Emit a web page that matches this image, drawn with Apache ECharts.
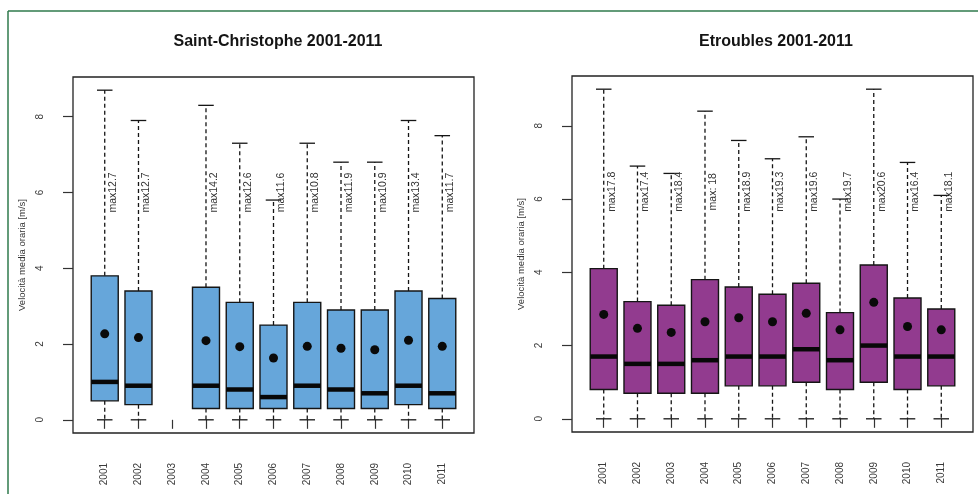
<!DOCTYPE html>
<html>
<head>
<meta charset="utf-8">
<title>Velocità media oraria 2001-2011</title>
<script src="https://cdn.jsdelivr.net/npm/echarts@6/dist/echarts.min.js"></script>
<style>
  html, body { margin: 0; padding: 0; background: #ffffff; }
  #chart { width: 978px; height: 494px; }
</style>
</head>
<body>
<div id="chart"></div>
<script>
// Years on the x axis (one box per year)
const years = ['2001', '2002', '2003', '2004', '2005', '2006', '2007', '2008', '2009', '2010', '2011'];
const yTicks = [0, 2, 4, 6, 8];

// Saint-Christophe: box statistics per year (m/s); 2003 has no data
const scLow    = [0, 0, null, 0, 0, 0, 0, 0, 0, 0, 0];
const scQ1     = [0.5, 0.4, null, 0.3, 0.3, 0.3, 0.3, 0.3, 0.3, 0.4, 0.3];
const scMedian = [1.0, 0.9, null, 0.9, 0.8, 0.6, 0.9, 0.8, 0.7, 0.9, 0.7];
const scQ3     = [3.8, 3.4, null, 3.5, 3.1, 2.5, 3.1, 2.9, 2.9, 3.4, 3.2];
const scHigh   = [8.7, 7.9, null, 8.3, 7.3, 5.8, 7.3, 6.8, 6.8, 7.9, 7.5];
const scMean   = [2.27, 2.17, null, 2.09, 1.93, 1.63, 1.94, 1.89, 1.85, 2.10, 1.94];
const scMaxLabels = ['max12.7', 'max12.7', null, 'max14.2', 'max12.6', 'max11.6', 'max10.8', 'max11.9', 'max10.9', 'max13.4', 'max11.7'];

// Etroubles: box statistics per year (m/s)
const etLow    = [0, 0, 0, 0, 0, 0, 0, 0, 0, 0, 0];
const etQ1     = [0.8, 0.7, 0.7, 0.7, 0.9, 0.9, 1.0, 0.8, 1.0, 0.8, 0.9];
const etMedian = [1.7, 1.5, 1.5, 1.6, 1.7, 1.7, 1.9, 1.6, 2.0, 1.7, 1.7];
const etQ3     = [4.1, 3.2, 3.1, 3.8, 3.6, 3.4, 3.7, 2.9, 4.2, 3.3, 3.0];
const etHigh   = [9.0, 6.9, 6.7, 8.4, 7.6, 7.1, 7.7, 6.0, 9.0, 7.0, 6.1];
const etMean   = [2.85, 2.47, 2.36, 2.65, 2.76, 2.65, 2.88, 2.43, 3.18, 2.52, 2.43];
const etMaxLabels = ['max17.8', 'max17.4', 'max18.4', 'max: 18', 'max18.9', 'max19.3', 'max19.6', 'max19.7', 'max20.6', 'max16.4', 'max18.1'];

const FONT = "'Liberation Sans', Arial, Helvetica, sans-serif";

// Rows: [position (1..n), low, q1, median, q3, high, mean, yearIndex]
function buildRows(low, q1, med, q3, high, mean) {
  const rows = [];
  years.forEach((y, i) => {
    if (med[i] == null) return;
    rows.push([i + 1, low[i], q1[i], med[i], q3[i], high[i], mean[i], i]);
  });
  return rows;
}

function makeRenderer(fillColor, maxLabels, labelValue) {
  return function (params, api) {
    const x = api.value(0);
    const pLo = api.coord([x, api.value(1)]);
    const pQ1 = api.coord([x, api.value(2)]);
    const pMed = api.coord([x, api.value(3)]);
    const pQ3 = api.coord([x, api.value(4)]);
    const pHi = api.coord([x, api.value(5)]);
    const pMean = api.coord([x, api.value(6)]);
    const pLab = api.coord([x, labelValue]);
    const unit = api.size([1, 0])[0];
    const cx = pMed[0];
    const halfBox = unit * 0.4;
    const halfCap = unit * 0.23;
    const ink = '#151515';
    const dash = { stroke: ink, lineWidth: 1.3, lineDash: [4, 3] };
    const solid = { stroke: ink, lineWidth: 1.3 };
    const text = maxLabels[api.value(7)];
    return {
      type: 'group',
      children: [
        { type: 'line', shape: { x1: cx, y1: pQ3[1], x2: cx, y2: pHi[1] }, style: dash },
        { type: 'line', shape: { x1: cx, y1: pQ1[1], x2: cx, y2: pLo[1] }, style: dash },
        { type: 'line', shape: { x1: cx - halfCap, y1: pHi[1], x2: cx + halfCap, y2: pHi[1] }, style: solid },
        { type: 'line', shape: { x1: cx - halfCap, y1: pLo[1], x2: cx + halfCap, y2: pLo[1] }, style: solid },
        {
          type: 'rect',
          shape: { x: cx - halfBox, y: pQ3[1], width: halfBox * 2, height: pQ1[1] - pQ3[1] },
          style: { fill: fillColor, stroke: ink, lineWidth: 1.4 }
        },
        { type: 'line', shape: { x1: cx - halfBox, y1: pMed[1], x2: cx + halfBox, y2: pMed[1] }, style: { stroke: '#080808', lineWidth: 4.5 } },
        { type: 'circle', shape: { cx: cx, cy: pMean[1], r: 4.5 }, style: { fill: '#0a0a0a' } },
        {
          type: 'text',
          x: cx + 8,
          y: pLab[1],
          rotation: Math.PI / 2,
          style: {
            text: text,
            fill: '#333333',
            fontSize: 10.5,
            fontFamily: FONT,
            align: 'center',
            verticalAlign: 'middle',
            textAlign: 'center',
            textVerticalAlign: 'middle'
          }
        }
      ]
    };
  };
}

function xAxisFor(gridIndex) {
  return {
    type: 'value',
    gridIndex: gridIndex,
    min: 0.06,
    max: 11.94,
    axisLine: { show: false },
    splitLine: { show: false },
    axisTick: { show: true, inside: false, length: 9, customValues: years.map((y, i) => i + 1), lineStyle: { color: '#333', width: 1.2 } },
    axisLabel: {
      show: true,
      customValues: years.map((y, i) => i + 1),
      rotate: 90,
      margin: 30,
      fontSize: 10,
      fontFamily: FONT,
      color: '#3a3a3a',
      formatter: function (v) { return years[Math.round(v) - 1] || ''; }
    }
  };
}

function yAxisFor(gridIndex, min, max) {
  return {
    type: 'value',
    gridIndex: gridIndex,
    min: min,
    max: max,
    name: 'Velocità media oraria [m/s]',
    nameLocation: 'middle',
    nameRotate: 90,
    nameGap: 46,
    nameTextStyle: { fontSize: 9.5, fontFamily: FONT, color: '#333' },
    axisLine: { show: false },
    splitLine: { show: false },
    axisTick: { show: true, inside: false, length: 10, customValues: yTicks, lineStyle: { color: '#333', width: 1.2 } },
    axisLabel: {
      show: true,
      customValues: yTicks,
      rotate: 90,
      margin: 28,
      fontSize: 10,
      fontFamily: FONT,
      color: '#3a3a3a'
    }
  };
}

const chart = echarts.init(document.getElementById('chart'), null, { renderer: 'canvas' });

chart.setOption({
  backgroundColor: '#ffffff',
  animation: false,
  title: [
    { text: 'Saint-Christophe 2001-2011', left: 273, top: 29, textAlign: 'center',
      textStyle: { fontSize: 16, fontWeight: 'bold', fontFamily: FONT, color: '#141414' } },
    { text: 'Etroubles 2001-2011', left: 771, top: 29, textAlign: 'center',
      textStyle: { fontSize: 16, fontWeight: 'bold', fontFamily: FONT, color: '#141414' } }
  ],
  graphic: [
    { type: 'line', shape: { x1: 8, y1: 11, x2: 978, y2: 11 }, style: { stroke: '#2f7a4c', lineWidth: 1.5 } },
    { type: 'line', shape: { x1: 8, y1: 11, x2: 8, y2: 494 }, style: { stroke: '#2f7a4c', lineWidth: 1.5 } }
  ],
  grid: [
    { left: 73, top: 77, width: 401, height: 356, show: true, borderColor: '#222', borderWidth: 1.3, backgroundColor: 'transparent' },
    { left: 572, top: 76, width: 401, height: 356, show: true, borderColor: '#222', borderWidth: 1.3, backgroundColor: 'transparent' }
  ],
  xAxis: [xAxisFor(0), xAxisFor(1)],
  yAxis: [yAxisFor(0, -0.348, 9.048), yAxisFor(1, -0.36, 9.36)],
  series: [
    {
      type: 'custom',
      xAxisIndex: 0,
      yAxisIndex: 0,
      encode: { x: 0, y: [1, 5] },
      data: buildRows(scLow, scQ1, scMedian, scQ3, scHigh, scMean),
      renderItem: makeRenderer('#66a6da', scMaxLabels, 6.0)
    },
    {
      type: 'custom',
      xAxisIndex: 1,
      yAxisIndex: 1,
      encode: { x: 0, y: [1, 5] },
      data: buildRows(etLow, etQ1, etMedian, etQ3, etHigh, etMean),
      renderItem: makeRenderer('#923b8f', etMaxLabels, 6.2)
    }
  ]
});
</script>
</body>
</html>
